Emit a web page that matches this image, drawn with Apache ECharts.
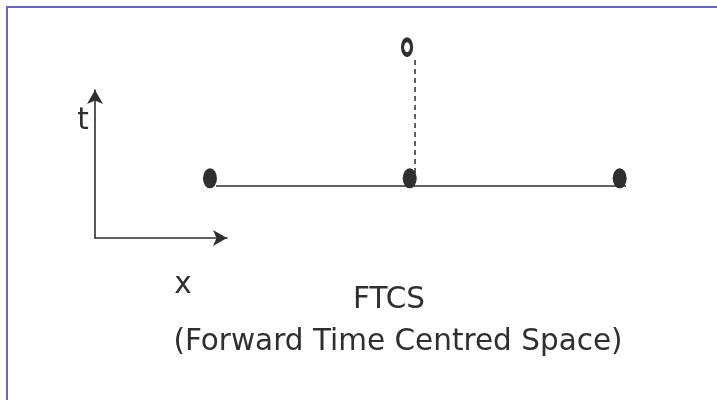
<!DOCTYPE html>
<html>
<head>
    <meta charset="utf-8">
    <title>FTCS stencil</title>
    <style>
        body { margin: 0; padding: 0; background: #fff; }
        #wrap { position: relative; width: 717px; height: 400px; overflow: hidden; }
        #chart { position: absolute; left: 0; top: 0; width: 717px; height: 400px; }
        #frame {
            position: absolute; left: 6px; top: 6px; right: 0; bottom: 0;
            border-top: 2px solid #6767b2; border-left: 2px solid #6767b2;
            pointer-events: none;
        }
    </style>
</head>
<body>
    <div id="wrap">
        <div id="chart"></div>
        <div id="frame"></div>
    </div>
    <script src="https://cdn.jsdelivr.net/npm/echarts@6/dist/echarts.min.js"></script>
    <script>
        // grid nodes j-1, j, j+1 at time level n (units of dx, dt)
        var nodeX = [-0.975, 0, 1.025];
        var nodeT = [0, 0, 0];
        // new value at j, level n+1
        var newX = [-0.013];
        var newT = [1.0];
        // solid line along level n
        var baseX = [-0.946, 1.056];
        var baseT = [-0.058, -0.058];
        // dashed link from j,n up to j,n+1
        var dashX = [0.026, 0.026];
        var dashT = [0.041, 0.918];

        var ink = '#2f2f2f';
        var font = '29.5px "DejaVu Sans"';

        function pairs(xs, ts) {
            return xs.map(function (x, i) { return [x, ts[i]]; });
        }

        function label(text, x, y) {
            return {
                type: 'text', x: x, y: y,
                style: { text: text, font: font, fill: ink, textAlign: 'center', textVerticalAlign: 'middle' }
            };
        }

        var chart = echarts.init(document.getElementById('chart'));

        var iconAxis = {
            type: 'value', gridIndex: 1, min: 0, max: 1,
            axisLine: { show: true, symbol: ['none', 'arrow'], symbolSize: [12, 14],
                lineStyle: { color: ink, width: 1.6 } },
            axisTick: { show: false }, axisLabel: { show: false }, splitLine: { show: false }
        };

        var option = {
            animation: false,
            grid: [
                { left: 0, top: 0, width: 717, height: 400 },
                { left: 95, top: 90, width: 132, height: 148 }   // little t-x axes icon
            ],
            xAxis: [
                { type: 'value', min: -2, max: 1.5, show: false },
                iconAxis
            ],
            yAxis: [
                { type: 'value', min: -1.69, max: 1.36, show: false },
                iconAxis
            ],
            series: [
                {
                    type: 'line',
                    data: pairs(baseX, baseT),
                    showSymbol: false,
                    lineStyle: { color: ink, width: 1.6 },
                    z: 1
                },
                {
                    type: 'line',
                    data: pairs(dashX, dashT),
                    showSymbol: false,
                    lineStyle: { color: ink, width: 1.5, type: [5, 4] },
                    z: 1
                },
                {
                    type: 'scatter',
                    data: pairs(nodeX, nodeT),
                    symbol: 'circle',
                    symbolSize: [14, 20],
                    itemStyle: { color: ink, opacity: 1 },
                    z: 3
                },
                {
                    type: 'scatter',
                    data: pairs(newX, newT),
                    symbol: 'circle',
                    symbolSize: [9, 15],
                    itemStyle: { color: '#fff', borderColor: ink, borderWidth: 4, opacity: 1 },
                    z: 3
                },
                { type: 'scatter', xAxisIndex: 1, yAxisIndex: 1, data: [] }
            ],
            graphic: [
                label('t', 83, 121),
                label('x', 183, 285),
                label('FTCS', 389, 300),
                label('(Forward Time Centred Space)', 398, 342)
            ]
        };

        chart.setOption(option);
    </script>
</body>
</html>
